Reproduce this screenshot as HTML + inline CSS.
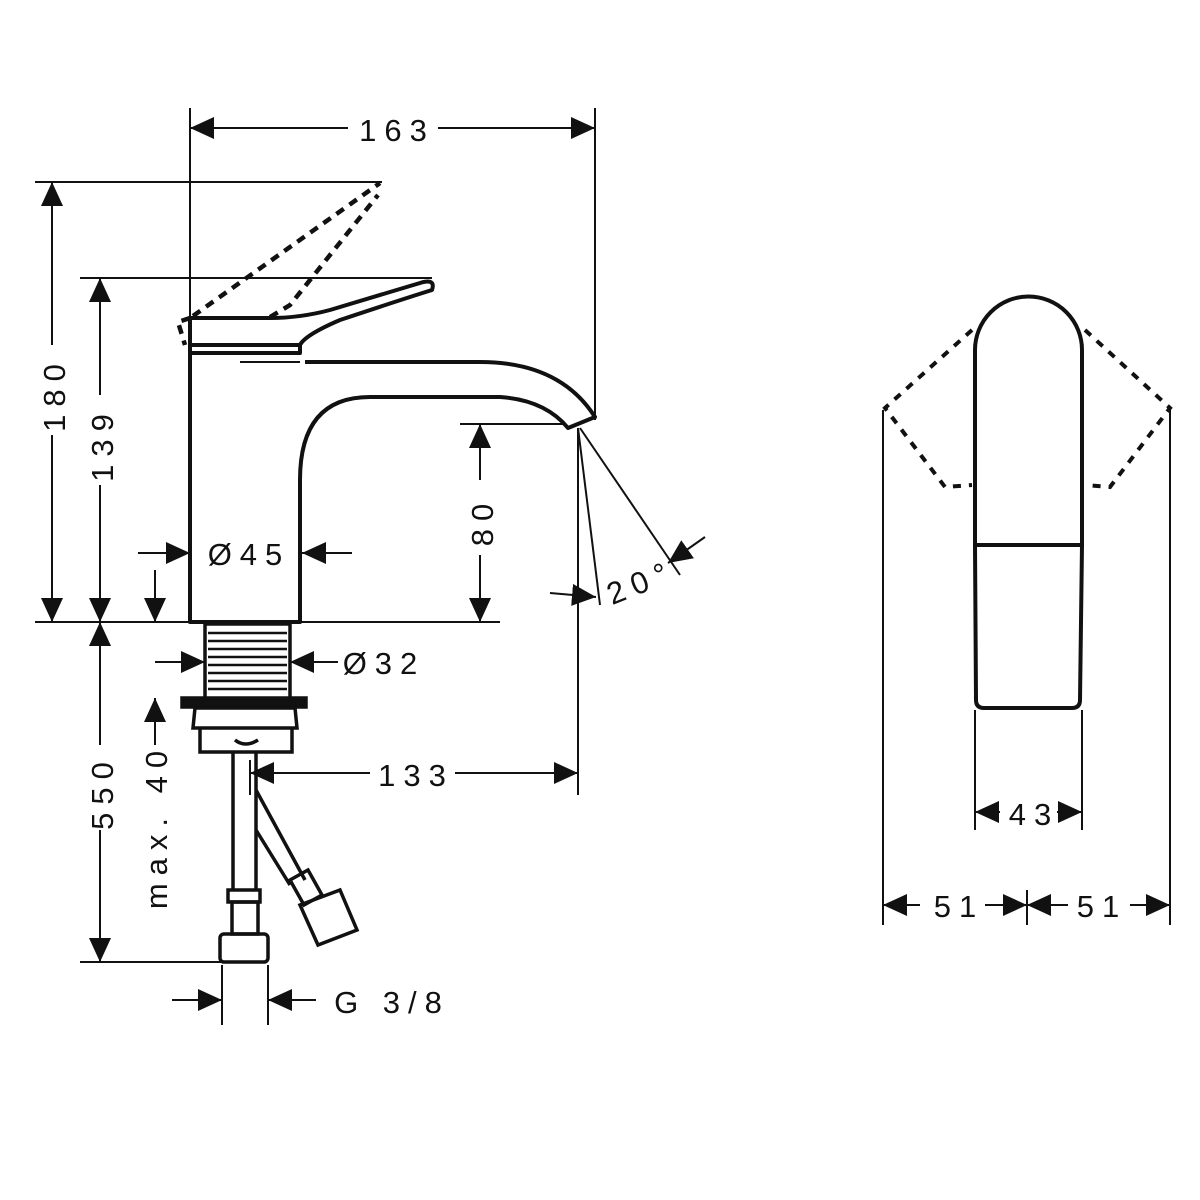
<!DOCTYPE html>
<html><head><meta charset="utf-8"><style>
html,body{margin:0;padding:0;background:#fff;width:1200px;height:1200px;overflow:hidden}
svg{display:block}
text{font-family:"Liberation Sans",sans-serif;font-size:31px;fill:#111;letter-spacing:8px}
</style></head><body>
<svg width="1200" height="1200" viewBox="0 0 1200 1200" xmlns="http://www.w3.org/2000/svg">
<defs>
<marker id="a" viewBox="0 0 24 22" refX="24" refY="11" markerWidth="24" markerHeight="22" markerUnits="userSpaceOnUse" orient="auto-start-reverse"><path d="M0,0 L24,11 L0,22 Z" fill="#111"/></marker>
</defs>
<g stroke="#111" fill="none" stroke-width="2">
<line x1="190" y1="108" x2="190" y2="330"/>
<line x1="595" y1="108" x2="595" y2="420"/>
<line x1="35" y1="182" x2="382" y2="182"/>
<line x1="80" y1="278" x2="432" y2="278"/>
<line x1="35" y1="622" x2="500" y2="622"/>
<line x1="460" y1="424" x2="565" y2="424"/>
<line x1="80" y1="962" x2="225" y2="962"/>
<line x1="222" y1="965" x2="222" y2="1025"/>
<line x1="268" y1="965" x2="268" y2="1025"/>
<line x1="578" y1="428" x2="578" y2="795"/>
<line x1="578" y1="428" x2="600" y2="605"/>
<line x1="580" y1="428" x2="680" y2="575"/>
<line x1="250" y1="760" x2="250" y2="795"/>
<line x1="190" y1="128" x2="348" y2="128" marker-start="url(#a)"/>
<line x1="438" y1="128" x2="595" y2="128" marker-end="url(#a)"/>
<line x1="52" y1="182" x2="52" y2="345" marker-start="url(#a)"/>
<line x1="52" y1="435" x2="52" y2="622" marker-end="url(#a)"/>
<line x1="100" y1="278" x2="100" y2="395" marker-start="url(#a)"/>
<line x1="100" y1="485" x2="100" y2="622" marker-end="url(#a)"/>
<line x1="480" y1="424" x2="480" y2="480" marker-start="url(#a)"/>
<line x1="480" y1="555" x2="480" y2="622" marker-end="url(#a)"/>
<line x1="138" y1="553" x2="190" y2="553" marker-end="url(#a)"/>
<line x1="352" y1="553" x2="302" y2="553" marker-end="url(#a)"/>
<line x1="155" y1="570" x2="155" y2="622" marker-end="url(#a)"/>
<line x1="155" y1="662" x2="205" y2="662" marker-end="url(#a)"/>
<line x1="338" y1="662" x2="290" y2="662" marker-end="url(#a)"/>
<line x1="100" y1="622" x2="100" y2="745" marker-start="url(#a)"/>
<line x1="100" y1="830" x2="100" y2="962" marker-end="url(#a)"/>
<line x1="155" y1="745" x2="155" y2="698" marker-end="url(#a)"/>
<line x1="370" y1="773" x2="250" y2="773" marker-end="url(#a)"/>
<line x1="455" y1="773" x2="578" y2="773" marker-end="url(#a)"/>
<line x1="550" y1="593" x2="596" y2="597" marker-end="url(#a)"/>
<line x1="705" y1="537" x2="668" y2="563" marker-end="url(#a)"/>
<line x1="172" y1="1000" x2="222" y2="1000" marker-end="url(#a)"/>
<line x1="316" y1="1000" x2="268" y2="1000" marker-end="url(#a)"/>
</g>
<g stroke="#111" fill="none" stroke-width="4" stroke-linejoin="round">
<path d="M190,352 L190,622 L300,622 L300,480 Q300,397 370,397 L500,397 Q545,400 568,428 L595,417 Q560,362 480,362 L305,362"/>
<rect x="190" y="345" width="110" height="8"/>
<line x1="240" y1="362" x2="300" y2="362" stroke-width="2"/>
<path d="M190,345 L190,318 L270,318 Q300,318 330,310 L420,283 Q436,278 432,290 Q400,300 340,320 Q305,335 300,345"/>
</g>
<g stroke="#111" fill="none" stroke-width="4.5" stroke-dasharray="9,7">
<path d="M190,318 L178,322 L185,345"/>
<path d="M193,316 L380,183"/>
<path d="M270,317 L290,305 L378,195"/>
</g>
<g stroke="#111" fill="none" stroke-width="3.5">
<rect x="205" y="624" width="85" height="75"/>
<g stroke-width="2.5"><line x1="208" y1="633" x2="287" y2="633"/><line x1="208" y1="641" x2="287" y2="641"/><line x1="208" y1="649" x2="287" y2="649"/><line x1="208" y1="657" x2="287" y2="657"/><line x1="208" y1="665" x2="287" y2="665"/><line x1="208" y1="673" x2="287" y2="673"/><line x1="208" y1="681" x2="287" y2="681"/><line x1="208" y1="689" x2="287" y2="689"/></g>
<rect x="182" y="698" width="124" height="9" fill="#111"/>
<path d="M195,708 L295,708 L297,728 L193,728 Z"/>
<path d="M200,728 L200,752 L292,752 L292,728"/>
<path d="M235,740 Q245,748 258,740"/>
<line x1="233" y1="752" x2="233" y2="890"/>
<line x1="256" y1="752" x2="256" y2="890"/>
<rect x="228" y="890" width="32" height="12"/>
<rect x="232" y="902" width="26" height="32"/>
<rect x="220" y="934" width="48" height="28" rx="4"/>
<line x1="256" y1="790" x2="305" y2="880"/>
<line x1="256" y1="830" x2="290" y2="885"/>
<path d="M290,880 L308,870 L322,895 L304,905 Z"/>
<path d="M300,905 L340,890 L357,930 L318,945 Z"/>
</g>
<g stroke="#111" fill="none" stroke-width="4">
<path d="M975,545 L975,350 A53,53 0 0 1 1082,350 L1082,545 Z"/>
<path d="M975,545 L976,700 Q976,708 984,708 L1072,708 Q1080,708 1080,700 L1082,545"/>
</g>
<g stroke="#111" fill="none" stroke-width="4" stroke-dasharray="8,8">
<path d="M972,330 L885,408 L945,487 L972,485"/>
<path d="M1085,330 L1170,408 L1110,487 L1085,485"/>
</g>
<g stroke="#111" fill="none" stroke-width="2">
<line x1="883" y1="410" x2="883" y2="925"/>
<line x1="1170" y1="410" x2="1170" y2="925"/>
<line x1="1027" y1="890" x2="1027" y2="925"/>
<line x1="975" y1="710" x2="975" y2="830"/>
<line x1="1082" y1="710" x2="1082" y2="830"/>
<line x1="1000" y1="812" x2="975" y2="812" marker-end="url(#a)"/>
<line x1="1057" y1="812" x2="1082" y2="812" marker-end="url(#a)"/>
<line x1="920" y1="905" x2="883" y2="905" marker-end="url(#a)"/>
<line x1="985" y1="905" x2="1027" y2="905" marker-end="url(#a)"/>
<line x1="1068" y1="905" x2="1027" y2="905" marker-end="url(#a)"/>
<line x1="1130" y1="905" x2="1170" y2="905" marker-end="url(#a)"/>
</g>
<text x="397" y="141" text-anchor="middle">163</text>
<text transform="translate(65,394) rotate(-90)" text-anchor="middle">180</text>
<text transform="translate(113,444) rotate(-90)" text-anchor="middle">139</text>
<text transform="translate(493,521) rotate(-90)" text-anchor="middle">80</text>
<text x="249" y="565" text-anchor="middle">Ø45</text>
<text x="384" y="674" text-anchor="middle">Ø32</text>
<text transform="translate(113,792) rotate(-90)" text-anchor="middle">550</text>
<text transform="translate(167,826) rotate(-90)" text-anchor="middle">max. 40</text>
<text x="416" y="786" text-anchor="middle">133</text>
<text transform="translate(645,592) rotate(-22)" text-anchor="middle">20°</text>
<text x="392" y="1013" text-anchor="middle">G 3/8</text>
<text x="1034" y="825" text-anchor="middle">43</text>
<text x="959" y="917" text-anchor="middle">51</text>
<text x="1102" y="917" text-anchor="middle">51</text>
</svg>
</body></html>
